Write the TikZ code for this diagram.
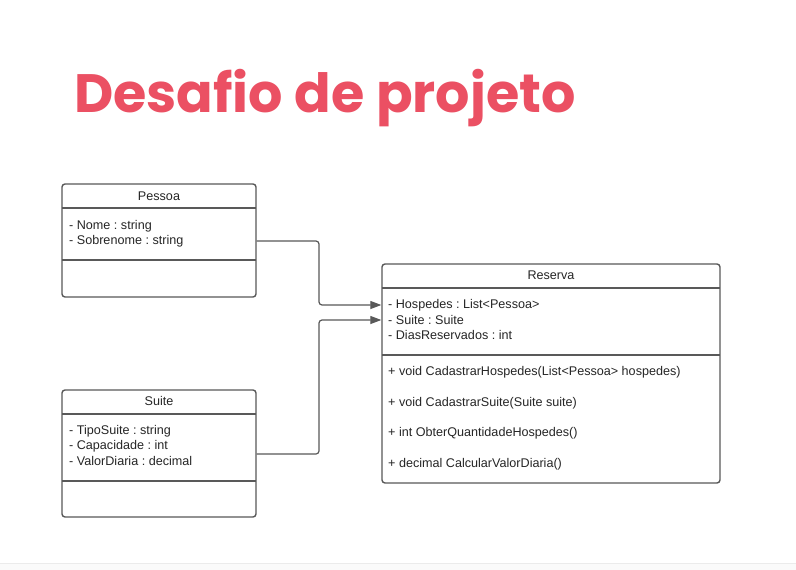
\documentclass[tikz,border=0pt]{standalone}
\usepackage{fontspec}
\setmainfont{Liberation Sans}
\newfontfamily\titlefont{Poppins}
\usetikzlibrary{positioning,arrows.meta}
\definecolor{titlered}{HTML}{EB5063}
\definecolor{umlgray}{HTML}{595959}
\tikzset{
  classbox/.style={draw=umlgray,line width=1.4pt,rounded corners=3pt,inner sep=0pt},
  classname/.style={font=\fontsize{12.6}{14}\selectfont,inner sep=0pt,text=black!85},
  member/.style={font=\fontsize{12.6}{14}\selectfont,anchor=west,inner sep=0pt,text=black!85},
  divider/.style={draw=umlgray,line width=1.4pt},
  assoc/.style={draw=umlgray,line width=1.2pt,rounded corners=3pt,-{Triangle[length=11pt,width=8pt]}}
}
\frenchspacing

\begin{document}
\begin{tikzpicture}[x=1pt,y=-1pt]
\useasboundingbox (0,0) rectangle (796,570);
\fill[white] (0,0) rectangle (796,570);
\fill[black!2] (0,563) rectangle (796,570);
\draw[black!8,line width=0.6pt] (0,563) -- (796,563);
% title
\node[anchor=base west,inner sep=0pt,text=titlered,font=\titlefont\bfseries\fontsize{54}{54}\selectfont] (title) at (74,112) {Desafio de projeto};
% Pessoa
\node[classbox,minimum width=194pt,minimum height=113pt] (pessoa) at (159,240.5) {};
\node[classname] (pessoaname) at (159,196) {Pessoa};
\draw[divider] (62,208) -- (256,208);
\draw[divider] (62,260) -- (256,260);
\node[member] (nome) at (69,226) {- Nome : string};
\node[member] (sobrenome) at (69,241) {- Sobrenome : string};
% Suite
\node[classbox,minimum width=194pt,minimum height=127pt] (suite) at (159,453.5) {};
\node[classname] (suitename) at (159,401) {Suite};
\draw[divider] (62,414) -- (256,414);
\draw[divider] (62,481) -- (256,481);
\node[member] (tiposuite) at (69,431) {- TipoSuite : string};
\node[member] (capacidade) at (69,446) {- Capacidade : int};
\node[member] (valordiaria) at (69,461) {- ValorDiaria : decimal};
% Reserva
\node[classbox,minimum width=338pt,minimum height=219pt] (reserva) at (551,373.5) {};
\node[classname] (reservaname) at (551,275) {Reserva};
\draw[divider] (382,288) -- (720,288);
\draw[divider] (382,355) -- (720,355);
\node[member] (hospedes) at (388,305) {- Hospedes : List<Pessoa>};
\node[member] (suiteattr) at (388,320) {- Suite : Suite};
\node[member] (dias) at (388,335) {- DiasReservados : int};
\node[member] (m1) at (388,372) {+ void CadastrarHospedes(List<Pessoa> hospedes)};
\node[member] (m2) at (388,403) {+ void CadastrarSuite(Suite suite)};
\node[member] (m3) at (388,433) {+ int ObterQuantidadeHospedes()};
\node[member] (m4) at (388,464) {+ decimal CalcularValorDiaria()};
% connectors
\draw[assoc] (pessoa.east |- 0,241) -- (319,241) -- (319,305) -- (reserva.west |- 0,305);
\draw[assoc] (suite.east |- 0,454) -- (319,454) -- (319,320) -- (reserva.west |- 0,320);
\end{tikzpicture}
\end{document}
